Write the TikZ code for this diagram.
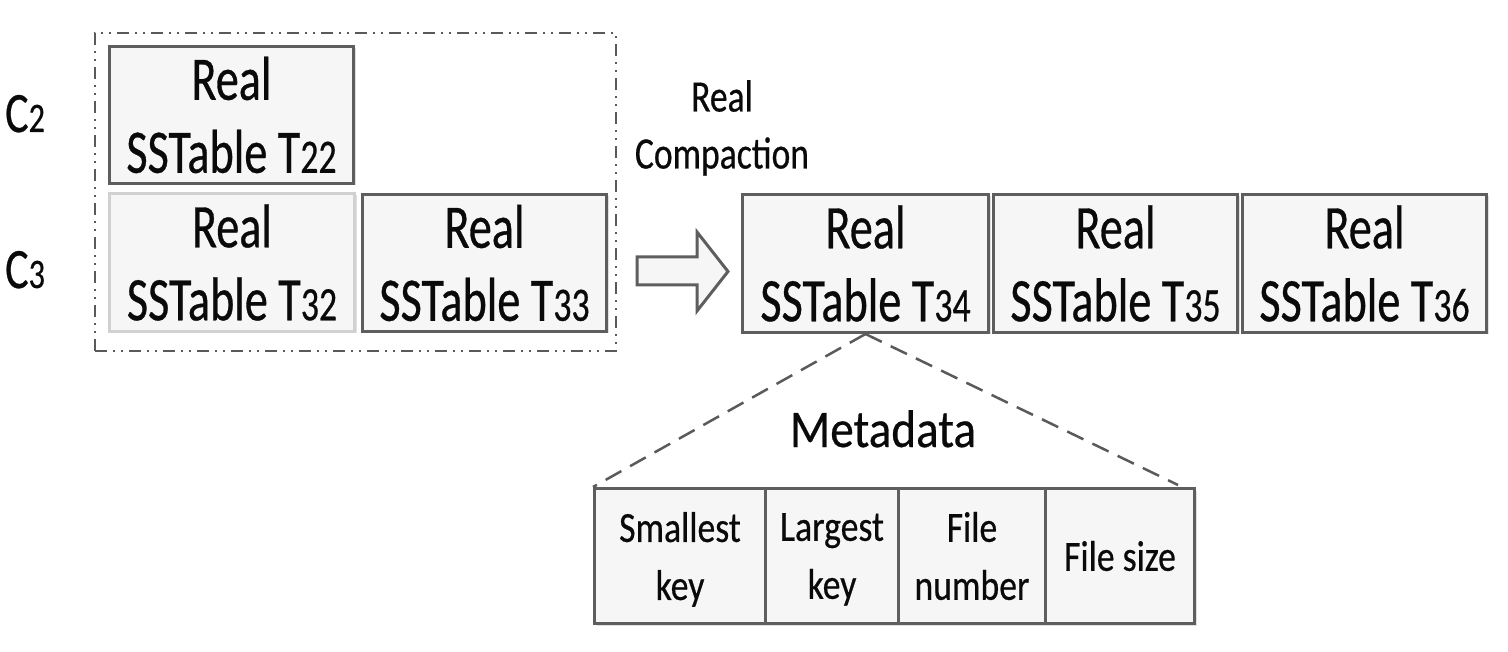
\documentclass[tikz,border=0pt]{standalone}
\usepackage{fontspec}
\setmainfont{Carlito}[FakeStretch=0.75, FakeBold=0.5]
\newfontfamily\boxf{Carlito}[FakeStretch=0.745, FakeBold=0.5]
\newfontfamily\lvlf{Carlito}[FakeStretch=0.77, FakeBold=0.5]
\newfontfamily\tabf{Carlito}[FakeStretch=0.83, FakeBold=0.5]
\newfontfamily\metaf{Carlito}[FakeStretch=0.89, FakeBold=0.5]
\newfontfamily\compf{Carlito}[FakeStretch=0.79, FakeBold=0.5]
\usetikzlibrary{shadows}
\definecolor{bord}{HTML}{5E5E5E}
\definecolor{boxfill}{HTML}{F6F6F6}
\definecolor{txt}{HTML}{0A0A0A}
\definecolor{dashc}{HTML}{5A5A5A}
\newcommand{\lsub}[1]{{\fontsize{48}{48}\selectfont #1}}
\newcommand{\lvlsub}[1]{{\fontsize{42}{42}\selectfont #1}}
\newcommand{\bigtxt}{\boxf\fontsize{62}{73}\selectfont}
\newcommand{\lvltxt}{\lvlf\fontsize{57}{60}\selectfont}
\newcommand{\tabtxt}{\tabf\fontsize{43}{58}\selectfont}
\newcommand{\comptxt}{\compf\fontsize{45}{57}\selectfont}
\newcommand{\metatxt}{\metaf\fontsize{53}{60}\selectfont}
\tikzset{
  sstab/.style={draw=bord, line width=3pt, fill=boxfill, inner sep=0pt,
    minimum height=138pt, align=center, font=\bigtxt, text=txt, anchor=north west,
    drop shadow={shadow xshift=2pt, shadow yshift=-2pt, opacity=0.12, fill=black}},
  faintstab/.style={sstab, draw=black!18},
  metacell/.style={draw=bord, line width=3pt, fill=boxfill, inner sep=0pt,
    minimum height=135pt, align=center, font=\tabtxt, text=txt, anchor=north west,
    drop shadow={shadow xshift=2pt, shadow yshift=-2pt, opacity=0.12, fill=black}},
  lvl/.style={font=\lvltxt, text=txt, anchor=base west, inner sep=0pt},
  plain/.style={text=txt, inner sep=0pt},
  groupframe/.style={draw=dashc, line width=2.2pt,
    dash pattern=on 12pt off 6pt on 2pt off 6pt on 2pt off 6pt},
  zoomline/.style={draw=dashc, line width=2.5pt, dash pattern=on 18pt off 10pt},
  blockarrow/.style={draw=bord, line width=3pt, fill=boxfill, line join=miter}
}
\begin{document}
\begin{tikzpicture}[x=1pt, y=-1pt]
\useasboundingbox (0,0) rectangle (1508,652);
% group frame
\node[groupframe, inner sep=0pt, minimum width=521pt, minimum height=318pt, anchor=north west] (grp) at (94,32) {};
% level labels
\node[lvl] (c2) at (5,132) {C\lvlsub{2}};
\node[lvl] (c3) at (5,288) {C\lvlsub{3}};
% input tables
\node[sstab, minimum width=244pt, minimum height=137pt] (t22) at (108,45) {Real\\SSTable T\lsub{22}};
\node[faintstab, minimum width=245pt] (t32) at (108,192) {Real\\SSTable T\lsub{32}};
\node[sstab, minimum width=244pt, minimum height=137pt] (t33) at (361,193) {Real\\SSTable T\lsub{33}};
% compaction label and arrow
\node[plain, font=\comptxt, align=center] (rc) at (722,128) {Real\\Compaction};
\draw[blockarrow] (637,257) -- (697,257) -- (697,232) -- (728,271.5) -- (697,311) -- (697,285) -- (637,285) -- cycle;
% output tables
\node[sstab, minimum width=246pt] (t34) at (741,193) {Real\\SSTable T\lsub{34}};
\node[sstab, minimum width=244pt] (t35) at (992,193) {Real\\SSTable T\lsub{35}};
\node[sstab, minimum width=244pt] (t36) at (1241,193) {Real\\SSTable T\lsub{36}};
% metadata
\node[metacell, minimum width=171pt] (m1) at (593,487) {Smallest\\\smash{key}};
\node[metacell, minimum width=133pt] (m2) at (764,487) {Largest\\\smash{key}};
\node[metacell, minimum width=147pt] (m3) at (897,487) {File\\number};
\node[metacell, minimum width=149pt] (m4) at (1044,487) {File size};
\node[plain, font=\metatxt, anchor=base] (meta) at (883,447) {Metadata};
\coordinate (zr) at (1178,485);
\draw[zoomline] (t34.south) -- (m1.north west);
\draw[zoomline] (t34.south) -- (zr);
\end{tikzpicture}
\end{document}
